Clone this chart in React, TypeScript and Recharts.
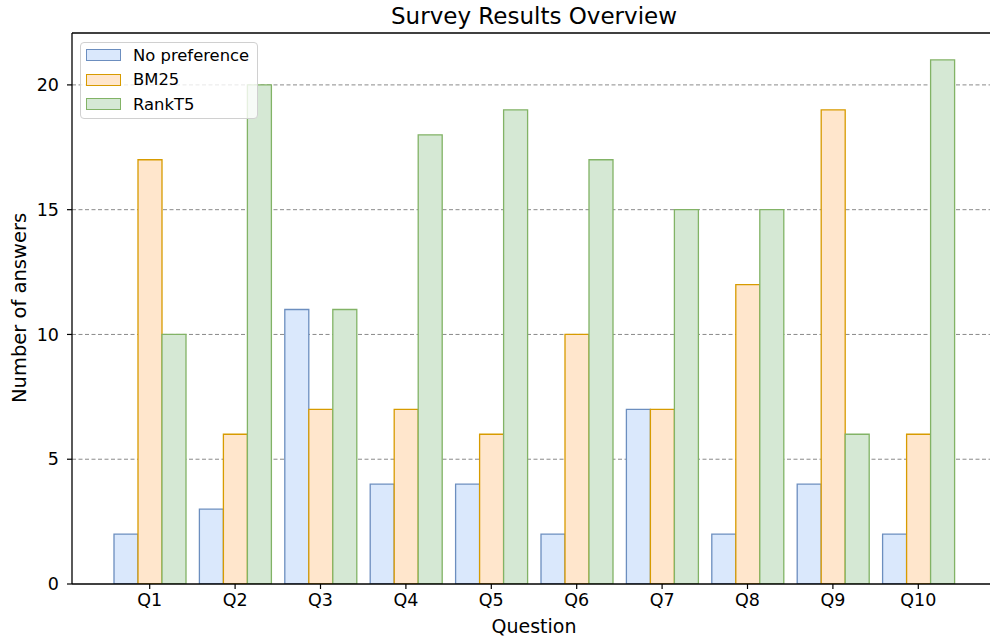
import { BarChart, Bar, XAxis, YAxis, CartesianGrid, Label, ReferenceLine } from "recharts"

const questions = ["Q1", "Q2", "Q3", "Q4", "Q5", "Q6", "Q7", "Q8", "Q9", "Q10"]
const noPreference = [2, 3, 11, 4, 4, 2, 7, 2, 4, 2]
const bm25 = [17, 6, 7, 7, 6, 10, 7, 12, 19, 6]
const rankT5 = [10, 20, 11, 18, 19, 17, 15, 15, 6, 21]
const yTicks = [0, 5, 10, 15, 20]
const gridValues = [5, 10, 15, 20]
const yMax = 22.08

const series = [
  { key: "noPref", name: "No preference", fill: "#dae8fc", stroke: "#6c8ebf" },
  { key: "bm25", name: "BM25", fill: "#ffe6cc", stroke: "#d79b00" },
  { key: "rankT5", name: "RankT5", fill: "#d5e8d4", stroke: "#82b366" },
]

const data = questions.map((q, i) => ({
  question: q,
  noPref: noPreference[i],
  bm25: bm25[i],
  rankT5: rankT5[i],
}))

const font = "'DejaVu Sans', sans-serif"

function LegendBox() {
  return (
    <div
      style={{
        position: "absolute",
        left: 80,
        top: 42,
        border: "1px solid #d0d0d0",
        borderRadius: 4,
        background: "rgba(255,255,255,0.8)",
        padding: "0 8px 1.5px 5px",
        fontFamily: font,
        fontSize: 16.4,
        color: "#000",
        zIndex: 2,
      }}
    >
      {series.map(s => (
        <div key={s.key} style={{ display: "flex", alignItems: "center", height: 24.5 }}>
          <span
            style={{
              display: "inline-block",
              boxSizing: "border-box",
              width: 35,
              height: 12,
              background: s.fill,
              border: `1.4px solid ${s.stroke}`,
              marginRight: 12,
            }}
          />
          {s.name}
        </div>
      ))}
    </div>
  )
}

export default function App() {
  return (
    <div style={{ position: "absolute", left: 0, top: 0, width: 990, height: 642, overflow: "hidden", background: "#fff" }}>
      <div
        style={{
          position: "absolute",
          left: 72,
          width: 924,
          top: 4.5,
          lineHeight: "23px",
          textAlign: "center",
          fontFamily: font,
          fontSize: 23,
        }}
      >
        Survey Results Overview
      </div>
      <div
        style={{
          position: "absolute",
          left: 20,
          top: 308,
          transform: "translate(-50%, -50%) rotate(-90deg)",
          whiteSpace: "nowrap",
          fontFamily: font,
          fontSize: 19.5,
          lineHeight: "20px",
        }}
      >
        Number of answers
      </div>
      <LegendBox />
      <BarChart
        width={1000}
        height={642}
        data={data}
        margin={{ top: 33, right: 4, left: 0, bottom: 0 }}
        barGap={0}
        barSize={24}
      >
        <CartesianGrid
          horizontal
          vertical={false}
          horizontalValues={gridValues}
          stroke="#8a8a8a"
          strokeDasharray="4 2.5"
          strokeWidth={1}
        />
        <XAxis
          dataKey="question"
          height={58}
          padding={{ left: 35, right: 35 }}
          tickSize={5}
          tickMargin={5}
          axisLine={{ stroke: "#000", strokeWidth: 1.3 }}
          tickLine={{ stroke: "#000", strokeWidth: 1.2 }}
          tick={{ fill: "#000", fontSize: 17.5, fontFamily: font }}
          interval={0}
        >
          <Label value="Question" position="insideBottom" offset={9} style={{ fill: "#000", fontSize: 19, fontFamily: font }} />
        </XAxis>
        <YAxis
          width={72}
          domain={[0, yMax]}
          ticks={yTicks}
          allowDataOverflow
          tickSize={5}
          tickMargin={8}
          axisLine={{ stroke: "#000", strokeWidth: 1.3 }}
          tickLine={{ stroke: "#000", strokeWidth: 1.2 }}
          tick={{ fill: "#000", fontSize: 17.5, fontFamily: font }}
        />
        {series.map(s => (
          <Bar
            key={s.key}
            dataKey={s.key}
            name={s.name}
            fill={s.fill}
            stroke={s.stroke}
            strokeWidth={1.3}
            isAnimationActive={false}
          />
        ))}
        <ReferenceLine y={yMax} stroke="#000" strokeWidth={1.3} ifOverflow="visible" />
      </BarChart>
    </div>
  )
}
